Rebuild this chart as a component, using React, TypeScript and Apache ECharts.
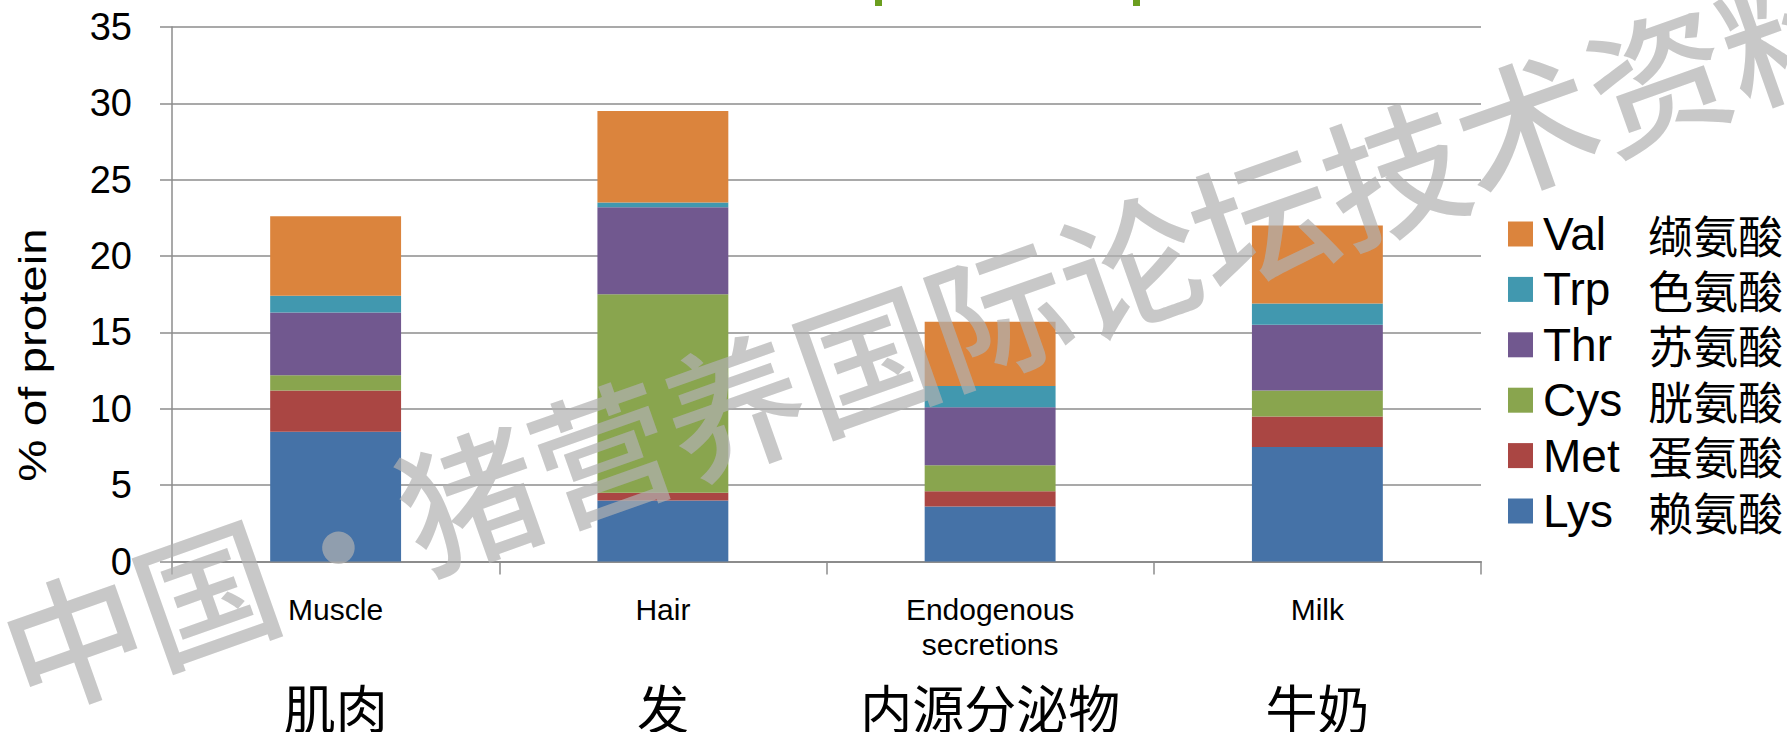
import React, { useEffect, useRef } from "react";
import * as echarts from "echarts";

const categories = ["Muscle", "Hair", "Endogenous\nsecretions", "Milk"];
const categoriesCn = ["肌肉", "发", "内源分泌物", "牛奶"];

const aminoCodes = ["Lys", "Met", "Cys", "Thr", "Trp", "Val"];
const aminoCn = ["赖氨酸", "蛋氨酸", "胱氨酸", "苏氨酸", "色氨酸", "缬氨酸"];
const aminoColors = ["#4572A7", "#AA4643", "#89A54E", "#71588F", "#4198AF", "#DB843D"];

const lys = [8.5, 4.0, 3.6, 7.5];
const met = [2.7, 0.5, 1.0, 2.0];
const cys = [1.0, 13.0, 1.7, 1.7];
const thr = [4.1, 5.7, 3.8, 4.3];
const trp = [1.1, 0.3, 1.4, 1.4];
const val = [5.2, 6.0, 4.2, 5.1];
const seriesValues = [lys, met, cys, thr, trp, val];

const yTicks = { min: 0, max: 35, interval: 5 };
const yAxisTitle = "% of protein";
const watermark = "中国・猪营养国际论坛技术资料";

const LATIN = '"Liberation Sans", Arial, sans-serif';
const CJK = '"Noto Sans CJK SC", sans-serif';

export default function App() {
  const ref = useRef<HTMLDivElement>(null);
  useEffect(() => {
    if (!ref.current) return;
    const chart = echarts.init(ref.current, undefined, { renderer: "svg" });
    const gray = "#8c8c8c";
    chart.setOption({
      animation: false,
      backgroundColor: "#ffffff",
      grid: { left: 172, top: 27, width: 1309, height: 535, containLabel: false },
      legend: {
        orient: "vertical",
        left: 1508,
        top: 211,
        padding: 0,
        itemWidth: 25,
        itemHeight: 25,
        itemGap: 9.4,
        icon: "rect",
        data: aminoCodes.slice().reverse(),
        formatter: (name: string) => {
          const i = aminoCodes.indexOf(name);
          return `{a|${name}}{b|${aminoCn[i]}}`;
        },
        textStyle: {
          color: "#000",
          rich: {
            a: { fontFamily: LATIN, fontSize: 46, width: 105, padding: [0, 0, 0, 5], lineHeight: 46, color: "#000" },
            b: { fontFamily: CJK, fontSize: 45, lineHeight: 46, color: "#000" },
          },
        },
      },
      xAxis: {
        type: "category",
        data: categories,
        axisLine: { show: true, lineStyle: { color: gray, width: 2 } },
        axisTick: { show: true, length: 13, lineStyle: { color: gray, width: 1.5 } },
        axisLabel: {
          interval: 0,
          margin: 30,
          formatter: (value: string, idx: number) => {
            const lines = value.split("\n");
            const en = lines.map((l) => `{en|${l}}`);
            while (en.length < 2) en.push("{en| }");
            return `${en.join("\n")}\n{cn|${categoriesCn[idx]}}`;
          },
          rich: {
            en: { fontFamily: LATIN, fontSize: 30, lineHeight: 35, color: "#000" },
            cn: { fontFamily: CJK, fontSize: 52, lineHeight: 89, color: "#000" },
          },
        },
      },
      yAxis: {
        type: "value",
        min: yTicks.min,
        max: yTicks.max,
        interval: yTicks.interval,
        axisLine: { show: true, lineStyle: { color: gray, width: 1.5 } },
        axisTick: { show: true, length: 12, lineStyle: { color: gray, width: 1.5 } },
        axisLabel: { margin: 40, fontFamily: LATIN, fontSize: 38, color: "#000" },
        splitLine: { show: true, lineStyle: { color: gray, width: 1.5 } },
      },
      series: aminoCodes.map((name, i) => ({
        name,
        type: "bar",
        stack: "total",
        barWidth: "40%",
        data: seriesValues[i],
        itemStyle: { color: aminoColors[i] },
      })),
      graphic: [
        {
          type: "text",
          z: 50,
          x: 33,
          y: 355,
          rotation: Math.PI / 2,
          scaleX: 1.25,
          style: {
            text: yAxisTitle,
            fontFamily: LATIN,
            fontSize: 38,
            fill: "#000",
            align: "center",
            verticalAlign: "middle",
          },
        },
        {
          type: "rect",
          z: 50,
          shape: { x: 875, y: 0, width: 7, height: 6 },
          style: { fill: "#6B9E1F" },
        },
        {
          type: "rect",
          z: 50,
          shape: { x: 1133, y: 0, width: 7, height: 6 },
          style: { fill: "#6B9E1F" },
        },
        {
          type: "text",
          z: 100,
          x: 930,
          y: 330,
          rotation: (19.5 * Math.PI) / 180,
          style: {
            text: watermark,
            fontFamily: CJK,
            fontWeight: 500,
            fontSize: 140,
            fill: "rgba(176,176,176,0.7)",
            align: "center",
            verticalAlign: "middle",
          },
        },
      ],
    });
    return () => chart.dispose();
  }, []);
  return (
    <div
      ref={ref}
      style={{ position: "fixed", left: 0, top: 0, width: 1787, height: 732, background: "#fff" }}
    />
  );
}
